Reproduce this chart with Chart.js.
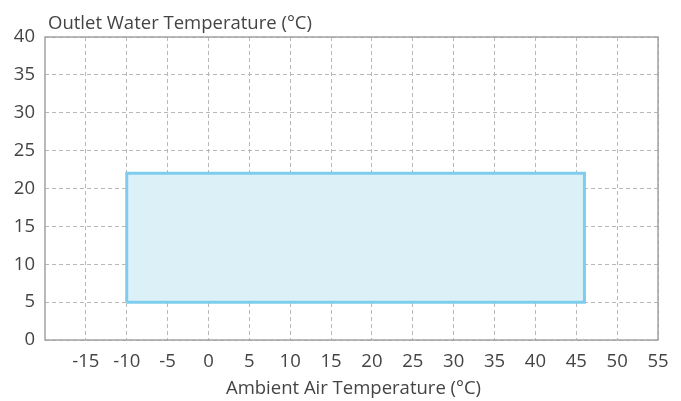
<!DOCTYPE html>
<html><head><meta charset="utf-8">
<script src="https://cdn.jsdelivr.net/npm/chart.js@4.4.0/dist/chart.umd.min.js"></script>
<style>html,body{margin:0;padding:0;background:#fff;overflow:hidden}#wrap{width:681px;height:401px}</style>
</head><body><div id="wrap"><canvas id="c" width="681" height="401"></canvas></div>
<script>
// Data
const xTickValues = [-15,-10,-5,0,5,10,15,20,25,30,35,40,45,50,55];
const yTickValues = [0,5,10,15,20,25,30,35,40];
const regionX = [-10,-10,46,46,-10];
const regionY = [5,22,22,5,5];
const xTitle = 'Ambient Air Temperature (°C)';
const yTitle = 'Outlet Water Temperature (°C)';
const xMin = -20, xMax = 55, yMin = 0, yMax = 40;

const FONT = '"Open Sans", sans-serif';
const TEXT = '#444444';
const FS = 18.5;

const points = regionX.map((x,i)=>({x:x, y:regionY[i]}));

const frame = {
  id:'frame',
  beforeDatasetsDraw(chart){
    const {ctx, chartArea:a} = chart;
    ctx.save();
    ctx.strokeStyle = '#a3a3a3';
    ctx.lineWidth = 1.5;
    ctx.strokeRect(a.left, a.top, a.right-a.left, a.bottom-a.top);
    ctx.restore();
  },
  afterDraw(chart){
    const {ctx} = chart;
    ctx.save();
    ctx.fillStyle = TEXT;
    ctx.font = FS + 'px ' + FONT;
    ctx.textBaseline = 'alphabetic';
    ctx.textAlign = 'left';
    ctx.fillText(yTitle, 48, 28.5);
    ctx.textAlign = 'center';
    ctx.textBaseline = 'middle';
    ctx.fillText(xTitle, 353.5, 389);
    ctx.restore();
  }
};

new Chart(document.getElementById('c'), {
  type:'scatter',
  data:{datasets:[{
    data: points,
    showLine:true,
    fill:'shape',
    backgroundColor:'#dcf0f7',
    borderColor:'#7fcdee',
    borderWidth:3,
    pointRadius:0,
    tension:0
  }]},
  options:{
    responsive:false,
    animation:false,
    devicePixelRatio:1,
    layout:{padding:{top:37,right:23,left:0,bottom:0}},
    plugins:{legend:{display:false},tooltip:{enabled:false},title:{display:false}},
    scales:{
      x:{
        type:'linear', min:xMin, max:xMax,
        afterFit(s){ s.height = 61; },
        afterBuildTicks(s){ s.ticks = [{value:xMin}].concat(xTickValues.map(v=>({value:v}))); },
        ticks:{
          font:{family:FONT,size:FS}, color:TEXT, padding:11, maxRotation:0, autoSkip:false,
          callback:(v)=> v===xMin ? null : String(v)
        },
        grid:{color:'#b8b8b8', lineWidth:1, drawTicks:false},
        border:{display:false, dash:[4,3]}
      },
      y:{
        type:'linear', min:yMin, max:yMax,
        afterFit(s){ s.width = 45; },
        afterBuildTicks(s){ s.ticks = yTickValues.map(v=>({value:v})); },
        ticks:{font:{family:FONT,size:FS}, color:TEXT, padding:10, autoSkip:false},
        grid:{color:'#b8b8b8', lineWidth:1, drawTicks:false},
        border:{display:false, dash:[4,3]}
      }
    }
  },
  plugins:[frame]
});
</script>
</body></html>
